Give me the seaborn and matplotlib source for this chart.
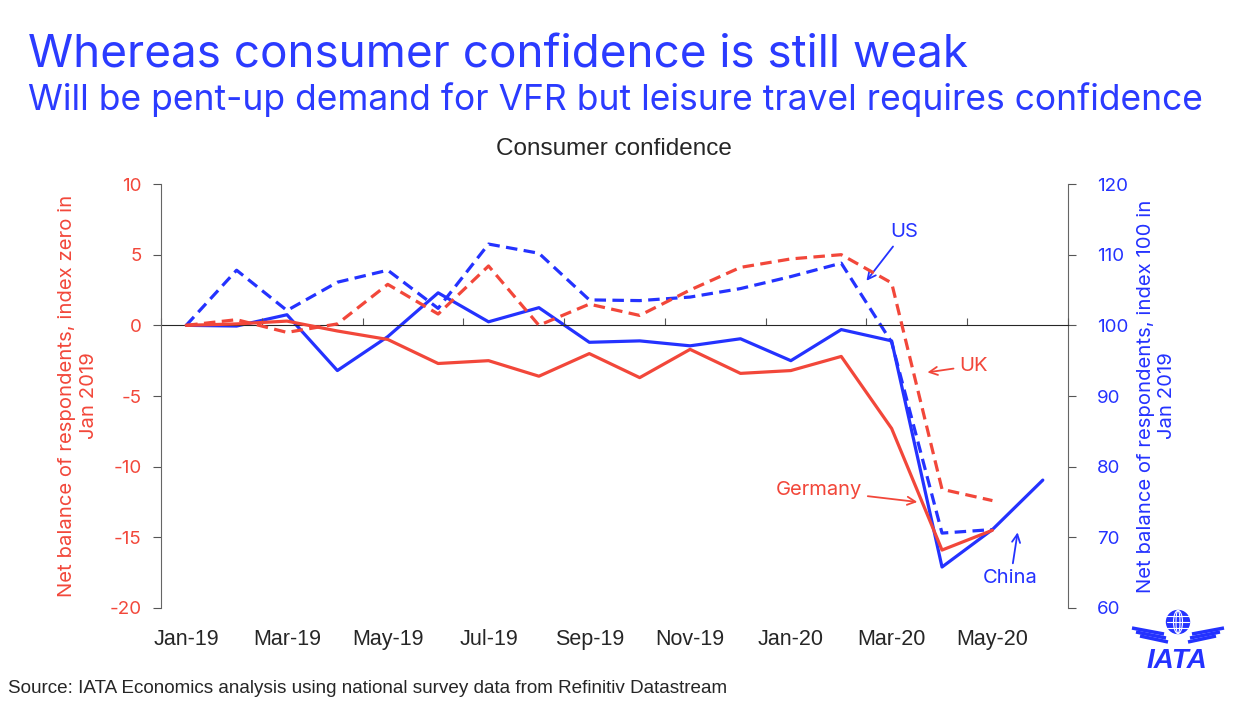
import numpy as np
import pandas as pd
import seaborn as sns
import matplotlib.pyplot as plt
from matplotlib.patches import Circle, Ellipse

months = ["Jan-19", "Feb-19", "Mar-19", "Apr-19", "May-19", "Jun-19", "Jul-19", "Aug-19", "Sep-19",
          "Oct-19", "Nov-19", "Dec-19", "Jan-20", "Feb-20", "Mar-20", "Apr-20", "May-20", "Jun-20"]
# left axis: net balance, index zero in Jan 2019
germany = [0, 0.1, 0.3, -0.4, -1.0, -2.7, -2.5, -3.6, -2.0, -3.7, -1.7, -3.4, -3.2, -2.2, -7.3, -15.9, -14.5, np.nan]
uk = [0, 0.4, -0.5, 0.1, 2.9, 0.8, 4.2, 0.0, 1.5, 0.7, 2.5, 4.1, 4.7, 5.0, 3.0, -11.6, -12.4, np.nan]
# right axis: index 100 in Jan 2019
us = [100, 107.8, 102.1, 106.1, 107.8, 102.4, 111.5, 110.2, 103.6, 103.5, 104.0, 105.2, 106.9, 108.8, 97.6, 70.6, 71.1, np.nan]
china = [100, 99.9, 101.5, 93.6, 98.4, 104.6, 100.5, 102.5, 97.6, 97.8, 97.1, 98.1, 95.0, 99.4, 97.8, 65.8, 71.1, 78.1]

RED = "#F2473A"
BLUE = "#2432FF"
TITLE_BLUE = "#2B3BFF"

df = pd.DataFrame({"m": np.arange(len(months)), "Germany": germany, "UK": uk, "US": us, "China": china})

sns.set_style("white")
plt.rcParams["font.family"] = ["Inter", "DejaVu Sans"]
plt.rcParams["axes.unicode_minus"] = False

fig = plt.figure(figsize=(12.37, 7.03), dpi=100)
ax = fig.add_axes([161 / 1237, 1 - 608 / 703, (1068 - 161) / 1237, (608 - 184) / 703])
ax2 = ax.twinx()

lw = 2.3
dash = (0, (3.6, 2.0))
sns.lineplot(data=df, x="m", y="China", ax=ax2, color=BLUE, lw=lw)
sns.lineplot(data=df, x="m", y="US", ax=ax2, color=BLUE, lw=lw, linestyle=dash)
sns.lineplot(data=df, x="m", y="Germany", ax=ax, color=RED, lw=lw)
sns.lineplot(data=df, x="m", y="UK", ax=ax, color=RED, lw=lw, linestyle=dash)
ax.set_zorder(ax2.get_zorder() + 1)
ax.patch.set_visible(False)

ax.set_xlim(-0.5, len(months) - 0.5)
ax.set_ylim(-20, 10)
ax2.set_ylim(60, 120)

# x labels every two months, no tick marks at bottom
ax.set_xticks(df["m"][::2])
ax.set_xticklabels(months[::2], fontsize=15.5, family="Liberation Sans")
ax.tick_params(axis="x", length=0, pad=15)
ax.set_xlabel("")

# zero line with category boundary ticks
zero = ax.secondary_xaxis(2 / 3)
zero.set_xticks(np.arange(-0.5, len(months), 2))
zero.set_xticklabels([])
zero.tick_params(axis="x", direction="out", length=5, color="#555555")
zero.spines["bottom"].set_color("#333333")
zero.spines["bottom"].set_linewidth(1.0)

ax.set_yticks(range(-20, 11, 5))
ax.tick_params(axis="y", labelcolor=RED, labelsize=13.5, length=6, color="#555555", left=True, pad=8)
ax2.set_yticks(range(60, 121, 10))
ax2.tick_params(axis="y", labelcolor=BLUE, labelsize=13.5, length=6, color="#555555", right=True, pad=15)

for a in (ax, ax2):
    a.spines["top"].set_visible(False)
    a.spines["bottom"].set_visible(False)
    a.spines["left"].set_color("#666666")
    a.spines["right"].set_color("#666666")
ax.spines["right"].set_visible(False)
ax2.spines["left"].set_visible(False)

ax.set_ylabel("Net balance of respondents, index zero in\nJan 2019", color=RED, fontsize=14.6, linespacing=1.25)
ax.yaxis.set_label_coords(-0.07, 0.5)
ax2.set_ylabel("Net balance of respondents, index 100 in\nJan 2019", color=BLUE, fontsize=14.6, linespacing=1.25)
ax2.yaxis.set_label_coords(1.076, 0.5)

arrow_kw = dict(arrowstyle="->", lw=1.3, shrinkA=2, shrinkB=0)
fs_ann = 14.5
ax2.annotate("US", xy=(13.5, 106.3), xytext=(14.25, 113.2), color=BLUE, fontsize=fs_ann, ha="center", va="center",
             arrowprops=dict(color=BLUE, **arrow_kw))
ax.annotate("UK", xy=(14.71, -3.33), xytext=(15.63, -2.85), color=RED, fontsize=fs_ann, ha="center", va="center",
            arrowprops=dict(color=RED, **arrow_kw))
ax.annotate("Germany", xy=(14.51, -12.5), xytext=(12.55, -11.68), color=RED, fontsize=fs_ann, ha="center",
            va="center", arrowprops=dict(color=RED, **arrow_kw))
ax2.annotate("China", xy=(16.5, 70.7), xytext=(16.36, 64.2), color=BLUE, fontsize=fs_ann, ha="center", va="center",
             arrowprops=dict(color=BLUE, **arrow_kw))

fig.text(0.4967, 1 - 149 / 703, "Consumer confidence", fontsize=17.5, family="Liberation Sans", ha="center",
         va="center")
fig.text(28 / 1237, 1 - 67 / 703, "Whereas consumer confidence is still weak", fontsize=33, color=TITLE_BLUE,
         va="baseline")
fig.text(28 / 1237, 1 - 110 / 703, "Will be pent-up demand for VFR but leisure travel requires confidence",
         fontsize=25.5, color=TITLE_BLUE, va="baseline")
fig.text(8 / 1237, 1 - 693 / 703, "Source: IATA Economics analysis using national survey data from Refinitiv Datastream",
         fontsize=13.6, family="Liberation Sans", va="baseline")

# IATA logo (simplified)
fig.text(1177 / 1237, 1 - 661 / 703, "IATA", fontsize=20, color=BLUE, weight="bold", style="italic",
         family="Liberation Sans", ha="center", va="center")
logo = fig.add_axes([1130 / 1237, 1 - 648 / 703, 96 / 1237, 40 / 703])
logo.set_xlim(-48, 48)
logo.set_ylim(-14, 26)
logo.set_aspect("equal")
logo.axis("off")
logo.add_patch(Circle((0, 12), 11.5, color=BLUE))
for w in (4, 9):
    logo.add_patch(Ellipse((0, 12), w, 23, fill=False, ec="white", lw=0.8))
for yy in (6, 12, 18):
    logo.plot([-11, 11], [yy, yy], color="white", lw=0.8)
for i, yy in enumerate((2, -2, -6)):
    logo.plot([-46 + i * 4, -14 + i * 2], [yy + 4, yy - 2], color=BLUE, lw=2.5, solid_capstyle="butt")
    logo.plot([46 - i * 4, 14 - i * 2], [yy + 4, yy - 2], color=BLUE, lw=2.5, solid_capstyle="butt")

fig.savefig("out.png", dpi=100)
